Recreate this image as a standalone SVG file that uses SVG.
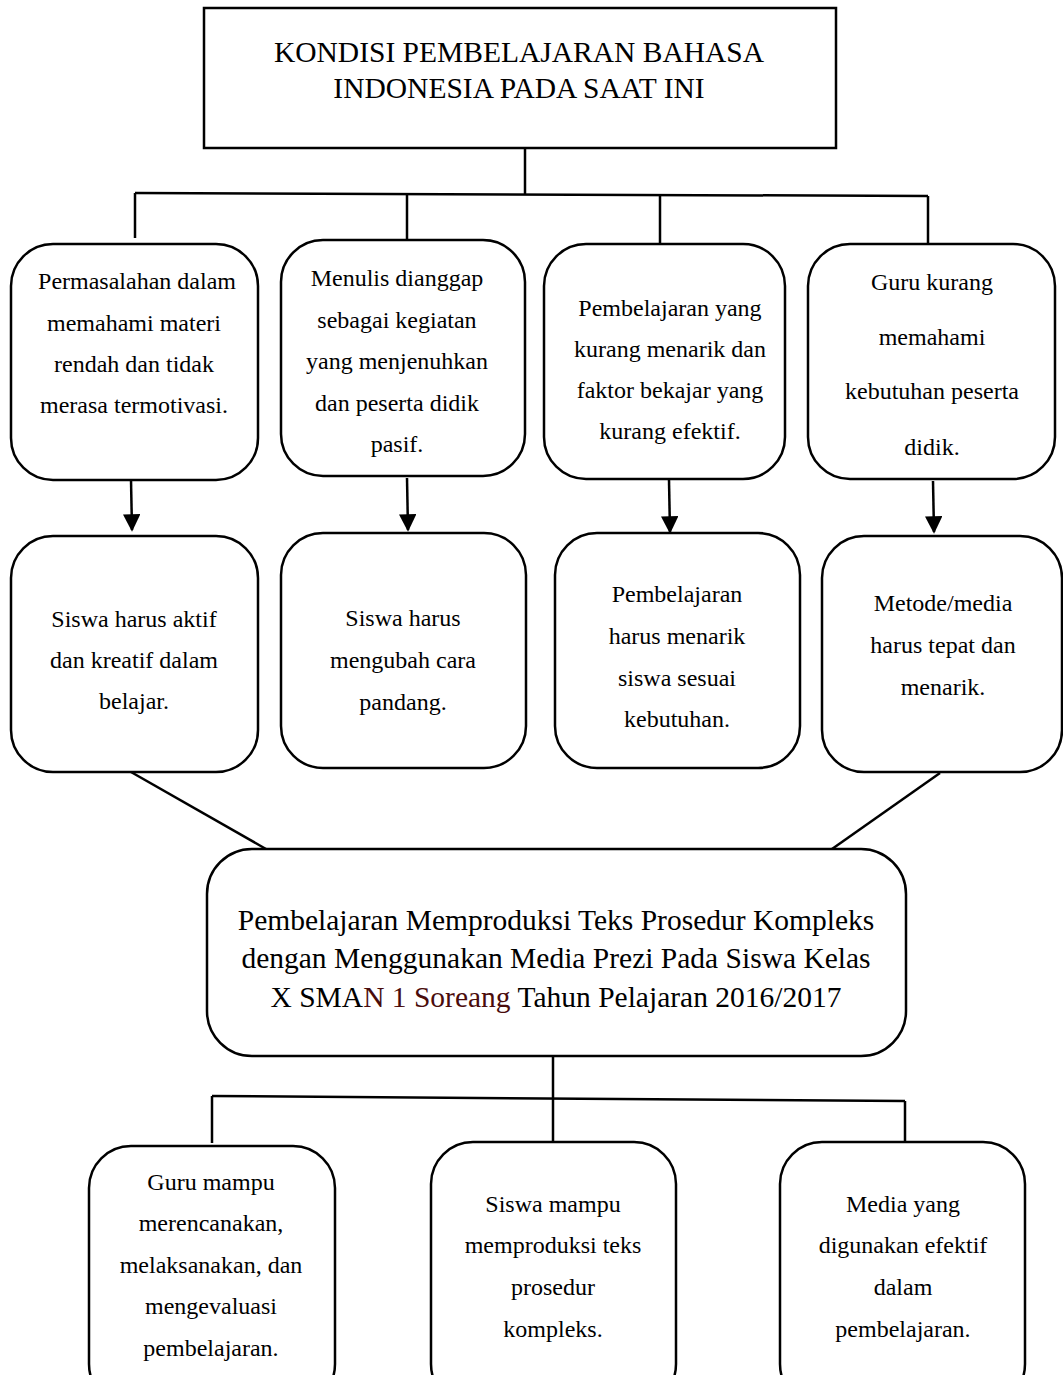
<svg xmlns="http://www.w3.org/2000/svg" width="1063" height="1375" viewBox="0 0 1063 1375">
<defs>
<style>
.box{fill:#fff;stroke:#000;stroke-width:2.5}
.ln{fill:none;stroke:#000;stroke-width:2.5}
.t{font-family:"Liberation Serif","Times New Roman",serif;fill:#000;text-anchor:middle}
.s20{font-size:24px}
.s26{font-size:29.5px}
</style>
<marker id="ah2" viewBox="0 0 10 10" refX="9" refY="5" markerWidth="7" markerHeight="7" orient="auto">
<path d="M0,0 L10,5 L0,10 z" fill="#000"/>
</marker>
</defs>
<rect width="1063" height="1375" fill="#fff"/>

<g id="connectors">
<line class="ln" x1="525" y1="148" x2="525" y2="194"/>
<line class="ln" x1="135" y1="193" x2="928" y2="196"/>
<line class="ln" x1="135" y1="193" x2="135" y2="238"/>
<line class="ln" x1="407" y1="193" x2="407" y2="240"/>
<line class="ln" x1="660" y1="195" x2="660" y2="244"/>
<line class="ln" x1="928" y1="196" x2="928" y2="244"/>
<line class="ln" x1="131" y1="480" x2="132" y2="530" marker-end="url(#ah2)"/>
<line class="ln" x1="407" y1="478" x2="408" y2="530" marker-end="url(#ah2)"/>
<line class="ln" x1="669" y1="480" x2="670" y2="532" marker-end="url(#ah2)"/>
<line class="ln" x1="933" y1="481" x2="934" y2="532" marker-end="url(#ah2)"/>
<line class="ln" x1="131" y1="772" x2="266" y2="849"/>
<line class="ln" x1="940" y1="773" x2="832" y2="849"/>
<line class="ln" x1="553" y1="1056" x2="553" y2="1142"/>
<line class="ln" x1="212" y1="1096" x2="905" y2="1101"/>
<line class="ln" x1="212" y1="1096" x2="212" y2="1143"/>
<line class="ln" x1="905" y1="1101" x2="905" y2="1141"/>
</g>

<g id="top">
<rect class="box" x="204" y="8" width="632" height="140"/>
<text class="t s26" x="519" y="62">KONDISI PEMBELAJARAN BAHASA</text>
<text class="t s26" x="519" y="98">INDONESIA PADA SAAT INI</text>
</g>

<g id="p1">
<rect class="box" x="11" y="244" width="247" height="236" rx="42"/>
<text class="t s20"><tspan x="137" y="289">Permasalahan dalam</tspan><tspan x="134" y="331">memahami materi</tspan><tspan x="134" y="372">rendah dan tidak</tspan><tspan x="134" y="413">merasa termotivasi.</tspan></text>
</g>
<g id="p2">
<rect class="box" x="281" y="240" width="244" height="236" rx="42"/>
<text class="t s20"><tspan x="397" y="286">Menulis dianggap</tspan><tspan x="397" y="328">sebagai kegiatan</tspan><tspan x="397" y="369">yang menjenuhkan</tspan><tspan x="397" y="411">dan peserta didik</tspan><tspan x="397" y="452">pasif.</tspan></text>
</g>
<g id="p3">
<rect class="box" x="544" y="244" width="241" height="235" rx="42"/>
<text class="t s20"><tspan x="670" y="316">Pembelajaran yang</tspan><tspan x="670" y="357">kurang menarik dan</tspan><tspan x="670" y="398">faktor bekajar yang</tspan><tspan x="670" y="439">kurang efektif.</tspan></text>
</g>
<g id="p4">
<rect class="box" x="808" y="244" width="247" height="235" rx="42"/>
<text class="t s20"><tspan x="932" y="290">Guru kurang</tspan><tspan x="932" y="345">memahami</tspan><tspan x="932" y="399">kebutuhan peserta</tspan><tspan x="932" y="455">didik.</tspan></text>
</g>

<g id="s1">
<rect class="box" x="11" y="536" width="247" height="236" rx="42"/>
<text class="t s20"><tspan x="134" y="627">Siswa harus aktif</tspan><tspan x="134" y="668">dan kreatif dalam</tspan><tspan x="134" y="709">belajar.</tspan></text>
</g>
<g id="s2">
<rect class="box" x="281" y="533" width="245" height="235" rx="42"/>
<text class="t s20"><tspan x="403" y="626">Siswa harus</tspan><tspan x="403" y="668">mengubah cara</tspan><tspan x="403" y="710">pandang.</tspan></text>
</g>
<g id="s3">
<rect class="box" x="555" y="533" width="245" height="235" rx="42"/>
<text class="t s20"><tspan x="677" y="602">Pembelajaran</tspan><tspan x="677" y="644">harus menarik</tspan><tspan x="677" y="686">siswa sesuai</tspan><tspan x="677" y="727">kebutuhan.</tspan></text>
</g>
<g id="s4">
<rect class="box" x="822" y="536" width="240" height="236" rx="42"/>
<text class="t s20"><tspan x="943" y="611">Metode/media</tspan><tspan x="943" y="653">harus tepat dan</tspan><tspan x="943" y="695">menarik.</tspan></text>
</g>

<g id="center">
<rect class="box" x="207" y="849" width="699" height="207" rx="45"/>
<text class="t s26"><tspan x="556" y="930">Pembelajaran Memproduksi Teks Prosedur Kompleks</tspan><tspan x="556" y="968">dengan Menggunakan Media Prezi Pada Siswa Kelas</tspan><tspan x="556" y="1007">X SMA<tspan fill="#4a0c0c">N 1 Soreang</tspan> Tahun Pelajaran 2016/2017</tspan></text>
</g>

<g id="b1">
<rect class="box" x="89" y="1146" width="246" height="260" rx="42"/>
<text class="t s20"><tspan x="211" y="1190">Guru mampu</tspan><tspan x="211" y="1231">merencanakan,</tspan><tspan x="211" y="1273">melaksanakan, dan</tspan><tspan x="211" y="1314">mengevaluasi</tspan><tspan x="211" y="1356">pembelajaran.</tspan></text>
</g>
<g id="b2">
<rect class="box" x="431" y="1142" width="245" height="264" rx="42"/>
<text class="t s20"><tspan x="553" y="1212">Siswa mampu</tspan><tspan x="553" y="1253">memproduksi teks</tspan><tspan x="553" y="1295">prosedur</tspan><tspan x="553" y="1337">kompleks.</tspan></text>
</g>
<g id="b3">
<rect class="box" x="780" y="1142" width="245" height="264" rx="42"/>
<text class="t s20"><tspan x="903" y="1212">Media yang</tspan><tspan x="903" y="1253">digunakan efektif</tspan><tspan x="903" y="1295">dalam</tspan><tspan x="903" y="1337">pembelajaran.</tspan></text>
</g>
</svg>
